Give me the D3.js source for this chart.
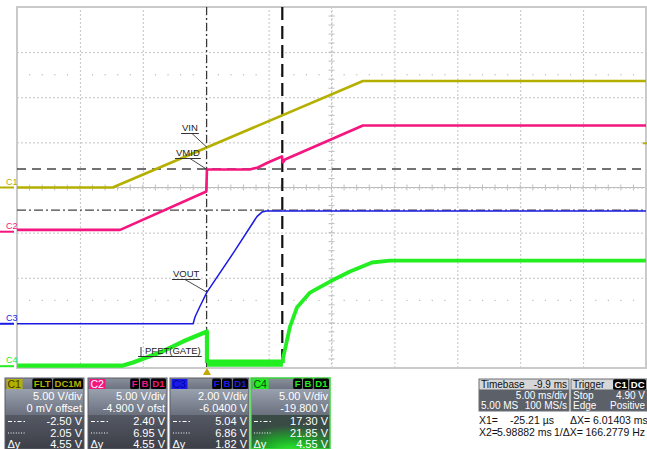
<!DOCTYPE html>
<html><head><meta charset="utf-8">
<script src="https://cdn.jsdelivr.net/npm/d3@7"></script>
<style>
html,body{margin:0;padding:0;background:#fff;}
svg{display:block;font-family:"Liberation Sans",Arial,sans-serif;}
</style></head><body>
<svg id="scope" width="647" height="449"></svg>
<script>
// ---- acquisition settings ----
const timePerDiv = 5;            // ms/div
const screenCentre = 9.9;        // ms after trigger (timebase -9.9 ms)
const hDivs = 10, vDivs = 8;

const channelNames = ["C1", "C2", "C3", "C4"];
const channelColors = ["#b5b000", "#f5157f", "#1a1ae6", "#22ee22"];
const channelVoltsPerDiv = [5, 5, 2, 5];
const channelOffsets = [0, -4.9, -6.04, -19.8];

// ---- waveforms (time in ms, level in V) ----
// C1 : VIN
const vinTime  = [-15.1, -7.5, 12.4, 34.9];
const vinVolts = [0.0, 0.0, 11.8, 11.8];
// C2 : VMID
const vmidTime  = [-15.1, -6.9, -0.05, 0.0, 3.4, 4.05, 4.85, 5.96, 6.04, 6.2, 12.4, 34.9];
const vmidVolts = [0.2, 0.2, 4.46, 6.9, 6.9, 7.12, 7.67, 8.34, 7.67, 8.0, 11.77, 11.77];
// C3 : VOUT
const voutTime  = [-15.1, -1.1, -0.95, -0.6, 0.0, 2.23, 3.97, 4.37, 4.69, 34.9];
const voutVolts = [0.0, 0.0, 0.3, 0.72, 1.4, 3.25, 4.75, 4.95, 5.0, 5.0];
// C4 : PFET gate
const gateTime  = [-15.1, -6.68, -5.88, -3.74, -1.91, 0.0, 0.0];
const gateVolts = [0.07, 0.07, 0.40, 1.51, 2.73, 3.84, 0.35];
const gateNoiseTime = [0.0, 6.04];
const gateNoiseLow  = [-0.05, -0.05];
const gateNoiseHigh = [0.75, 0.75];
const gateRiseTime  = [6.04, 6.04, 6.6, 7.15, 8.19, 9.78, 11.37, 13.12, 14.55, 34.9];
const gateRiseVolts = [0.35, 0.84, 4.39, 6.5, 8.16, 9.38, 10.49, 11.49, 11.7, 11.7];

// ---- cursors ----
const cursorX1 = -0.02521, cursorX2 = 5.98882;   // ms
const cursorY1 = -2.50, cursorY2 = 2.05;          // V on C1
const triggerLevel = 4.90;                         // V on C1

// ---- read-outs ----
const panelVdiv   = ["5.00 V/div", "5.00 V/div", "2.00 V/div", "5.00 V/div"];
const panelOffset = ["0 mV offset", "-4.900 V ofst", "-6.0400 V", "-19.800 V"];
const panelCurY1  = ["-2.50 V", "2.40 V", "5.04 V", "17.30 V"];
const panelCurY2  = ["2.05 V", "6.95 V", "6.86 V", "21.85 V"];
const panelDeltaY = ["4.55 V", "4.55 V", "1.82 V", "4.55 V"];
const panelBadges = [["FLT", "DC1M"], ["F", "B", "D1"], ["F", "B", "D1"], ["F", "B", "D1"]];

// ---- geometry ----
const plotL = 17, plotR = 646, plotT = 7, plotB = 368;
const svg = d3.select("#scope");

const x = d3.scaleLinear()
  .domain([screenCentre - hDivs / 2 * timePerDiv, screenCentre + hDivs / 2 * timePerDiv])
  .range([plotL, plotR]);
const yCh = channelVoltsPerDiv.map((vd, i) => d3.scaleLinear()
  .domain([-channelOffsets[i] - vDivs / 2 * vd, -channelOffsets[i] + vDivs / 2 * vd])
  .range([plotB, plotT]));
const yDiv = d3.scaleLinear().domain([-vDivs / 2, vDivs / 2]).range([plotB, plotT]);

// ---- graticule ----
const grid = svg.append("g");
const t0 = x.domain()[0];
const majorT = d3.range(hDivs + 1).map(i => t0 + i * timePerDiv);
const minorT = d3.range(hDivs * 5 + 1).map(i => t0 + i * timePerDiv / 5);
const majorV = d3.range(-vDivs / 2, vDivs / 2 + 1);
const minorV = d3.range(vDivs * 5 + 1).map(i => -vDivs / 2 + i / 5);

const gx = grid.append("g").attr("transform", `translate(0,${plotB})`)
  .call(d3.axisBottom(x).tickValues(majorT).tickSize(-(plotB - plotT)).tickFormat(""));
const gy = grid.append("g").attr("transform", `translate(${plotL},0)`)
  .call(d3.axisLeft(yDiv).tickValues(majorV).tickSize(-(plotR - plotL)).tickFormat(""));
[gx, gy].forEach(g => {
  g.select(".domain").remove();
  g.selectAll("line").attr("stroke", "#c4c4c4").attr("stroke-width", 1)
    .attr("stroke-dasharray", "2,2");
});

// rows of dots at +/-2.5 div
[-2.5, 2.5].forEach(v => {
  grid.append("g").selectAll("rect").data(minorT.filter((d, i) => i % 5 !== 0)).join("rect")
    .attr("x", d => x(d) - 0.5).attr("y", yDiv(v) - 0.5).attr("width", 1.2).attr("height", 1.2)
    .attr("fill", "#b8b8b8");
});

// centre cross with minor ticks
const cx = x(screenCentre), cy = yDiv(0);
grid.append("line").attr("x1", plotL).attr("x2", plotR).attr("y1", cy).attr("y2", cy)
  .attr("stroke", "#bdbdbd").attr("stroke-width", 1.2);
grid.append("line").attr("x1", cx).attr("x2", cx).attr("y1", plotT).attr("y2", plotB)
  .attr("stroke", "#c8c8c8").attr("stroke-width", 1).attr("stroke-dasharray", "2,2");
grid.append("g").selectAll("line").data(minorT).join("line")
  .attr("x1", d => x(d)).attr("x2", d => x(d)).attr("y1", cy - 3).attr("y2", cy + 3)
  .attr("stroke", "#c0c0c0");
grid.append("g").selectAll("line").data(minorV).join("line")
  .attr("y1", d => yDiv(d)).attr("y2", d => yDiv(d)).attr("x1", cx - 3).attr("x2", cx + 3)
  .attr("stroke", "#c0c0c0");

// frame
grid.append("rect").attr("x", plotL).attr("y", plotT).attr("width", plotR - plotL)
  .attr("height", plotB - plotT).attr("fill", "none").attr("stroke", "#cacaca").attr("stroke-width", 2);

// ---- horizontal cursors (C1 levels) ----
const cur = svg.append("g");
cur.append("line").attr("x1", plotL).attr("x2", plotR)
  .attr("y1", yCh[0](cursorY2)).attr("y2", yCh[0](cursorY2))
  .attr("stroke", "#444").attr("stroke-width", 1.3).attr("stroke-dasharray", "9,6");
cur.append("line").attr("x1", plotL).attr("x2", plotR)
  .attr("y1", yCh[0](cursorY1)).attr("y2", yCh[0](cursorY1))
  .attr("stroke", "#444").attr("stroke-width", 1.3).attr("stroke-dasharray", "9,3,2,3");

// ---- traces ----
const traces = svg.append("g");
function trace(times, volts, ch, width) {
  const pts = times.map((t, i) => [t, volts[i]]);
  traces.append("path").datum(pts)
    .attr("d", d3.line().x(d => x(d[0])).y(d => yCh[ch](d[1])))
    .attr("fill", "none").attr("stroke", channelColors[ch]).attr("stroke-width", width)
    .attr("stroke-linejoin", "round");
}
trace(vinTime, vinVolts, 0, 2.6);
trace(vmidTime, vmidVolts, 1, 2.6);
trace(voutTime, voutVolts, 2, 1.5);
trace(gateTime, gateVolts, 3, 4.2);
traces.append("path")
  .datum(gateNoiseTime.map((t, i) => [t, gateNoiseLow[i], gateNoiseHigh[i]]))
  .attr("d", d3.area().x(d => x(d[0])).y0(d => yCh[3](d[1])).y1(d => yCh[3](d[2])))
  .attr("fill", channelColors[3]);
trace(gateRiseTime, gateRiseVolts, 3, 3.8);

// ---- vertical cursors ----
cur.append("line").attr("x1", x(cursorX1)).attr("x2", x(cursorX1)).attr("y1", plotT).attr("y2", plotB)
  .attr("stroke", "#333").attr("stroke-width", 1.2).attr("stroke-dasharray", "8,3,2,3");
cur.append("line").attr("x1", x(cursorX2)).attr("x2", x(cursorX2)).attr("y1", plotT).attr("y2", plotB)
  .attr("stroke", "#111").attr("stroke-width", 2.2).attr("stroke-dasharray", "13,6");

// ---- trace annotations ----
const ann = svg.append("g").attr("font-size", 9.5).attr("fill", "#222");
function note(text, tx, ty, lx, targetT, targetV, ch) {
  const t = ann.append("text").attr("x", tx).attr("y", ty).text(text);
  const w = t.node().getComputedTextLength();
  ann.append("line").attr("x1", tx - 1).attr("x2", tx + w + 1).attr("y1", ty + 2.5).attr("y2", ty + 2.5)
    .attr("stroke", "#333").attr("stroke-width", 1);
  ann.append("line").attr("x1", lx).attr("y1", ty + 2.5)
    .attr("x2", x(targetT)).attr("y2", yCh[ch](targetV))
    .attr("stroke", "#333").attr("stroke-width", 0.9);
}
const vinAtTrig = d3.scaleLinear().domain([vinTime[1], vinTime[2]]).range([vinVolts[1], vinVolts[2]])(0);
note("VIN", 182, 131, 192, 0, vinAtTrig, 0);
note("VMID", 176, 156, 190, 0, vmidVolts[3], 1);
note("VOUT", 173, 277, 185, 0, voutVolts[4], 2);
// gate label with a short drop line
const pg = ann.append("text").attr("x", 145).attr("y", 354).text("PFET(GATE)");
const pgw = pg.node().getComputedTextLength();
ann.append("line").attr("x1", 138).attr("x2", 145 + pgw + 1).attr("y1", 356.5).attr("y2", 356.5)
  .attr("stroke", "#333");
ann.append("line").attr("x1", 141).attr("x2", 141).attr("y1", 347).attr("y2", 356.5)
  .attr("stroke", "#333");

// ---- channel ground markers ----
const marks = svg.append("g").attr("font-size", 9);
channelNames.forEach((n, i) => {
  const y0 = Math.min(yCh[i](0), plotB - 1);
  marks.append("line").attr("x1", 0).attr("x2", 14).attr("y1", y0).attr("y2", y0)
    .attr("stroke", channelColors[i]).attr("stroke-width", 2);
  marks.append("text").attr("x", 6).attr("y", y0 - 3).attr("fill", channelColors[i]).text(n);
});
// trigger level and trigger position
marks.append("line").attr("x1", plotR - 3).attr("x2", plotR + 1)
  .attr("y1", yCh[0](triggerLevel)).attr("y2", yCh[0](triggerLevel))
  .attr("stroke", channelColors[0]).attr("stroke-width", 2);
marks.append("path")
  .attr("d", `M${x(0) - 4},375 L${x(0) + 4},375 L${x(0)},368 Z`).attr("fill", "#c2a700");

// ---- channel read-out panels ----
const defs = svg.append("defs");
const gBody = defs.append("linearGradient").attr("id", "bodyGrad").attr("x1", 0).attr("x2", 0).attr("y1", 0).attr("y2", 1);
gBody.append("stop").attr("offset", "0%").attr("stop-color", "#9aa1ae");
gBody.append("stop").attr("offset", "100%").attr("stop-color", "#6a707e");
const gDark = defs.append("linearGradient").attr("id", "darkGrad").attr("x1", 0).attr("x2", 0).attr("y1", 0).attr("y2", 1);
gDark.append("stop").attr("offset", "0%").attr("stop-color", "#555964");
gDark.append("stop").attr("offset", "100%").attr("stop-color", "#3c3f47");
const gGlow = defs.append("radialGradient").attr("id", "glow").attr("cx", 0.5).attr("cy", 1.05).attr("r", 0.75);
gGlow.append("stop").attr("offset", "0%").attr("stop-color", "#2cf02c");
gGlow.append("stop").attr("offset", "45%").attr("stop-color", "#1fa82a");
gGlow.append("stop").attr("offset", "100%").attr("stop-color", "#3a4a45");
const gHead = defs.append("linearGradient").attr("id", "headGrad").attr("x1", 0).attr("x2", 0).attr("y1", 0).attr("y2", 1);
gHead.append("stop").attr("offset", "0%").attr("stop-color", "#8a909c");
gHead.append("stop").attr("offset", "100%").attr("stop-color", "#6d7380");

const panelX = [5, 88, 170, 251], panelW = 79, panelTop = 378;
const labelText = ["#3a3a00", "#ffffff", "#0000a8", "#114411"];

function badges(g, right, y, labels, fg) {
  let edge = right;
  for (let i = labels.length - 1; i >= 0; i--) {
    const t = g.append("text").attr("y", y + 8.6).attr("font-size", 9.5).attr("font-weight", "bold")
      .attr("fill", fg).text(labels[i]);
    const w = t.node().getComputedTextLength();
    const bx = edge - w - 3;
    t.attr("x", bx + 1.5);
    g.insert("rect", () => t.node()).attr("x", bx).attr("y", y).attr("width", w + 3).attr("height", 10.5)
      .attr("rx", 1.5).attr("fill", "#050505");
    edge = bx - 1;
  }
}

channelNames.forEach((n, i) => {
  const g = svg.append("g").attr("transform", `translate(${panelX[i]},0)`);
  const isGate = i === 3;
  g.append("rect").attr("x", 0).attr("y", panelTop).attr("width", panelW).attr("height", 11)
    .attr("fill", "url(#headGrad)");
  g.append("rect").attr("x", 0).attr("y", panelTop + 11).attr("width", panelW).attr("height", 26)
    .attr("fill", "url(#bodyGrad)");
  g.append("rect").attr("x", 0).attr("y", panelTop + 37).attr("width", panelW).attr("height", 449 - panelTop - 37)
    .attr("fill", isGate ? "url(#glow)" : "url(#darkGrad)");
  g.append("rect").attr("x", 0).attr("y", panelTop).attr("width", panelW).attr("height", 449 - panelTop)
    .attr("fill", "none").attr("stroke", isGate ? "#3ad43a" : "#5a5e68").attr("stroke-width", isGate ? 1.5 : 1);
  // channel tag
  g.append("rect").attr("x", 1.5).attr("y", panelTop + 1).attr("width", 16).attr("height", 10)
    .attr("fill", channelColors[i]);
  g.append("text").attr("x", 2.5).attr("y", panelTop + 9.5).attr("font-size", 10.5)
    .attr("fill", labelText[i]).text(n);
  badges(g, panelW - 1, panelTop + 0.5, panelBadges[i], channelColors[i]);

  const rows = [[panelVdiv[i], 400], [panelOffset[i], 411.5], [panelCurY1[i], 425], [panelCurY2[i], 436.5], [panelDeltaY[i], 447.5]];
  rows.forEach(([txt, yy]) => {
    g.append("text").attr("x", panelW - 2).attr("y", yy).attr("text-anchor", "end")
      .attr("font-size", 11).attr("fill", "#fff").text(txt);
  });
  g.append("line").attr("x1", 3).attr("x2", 20).attr("y1", 421.5).attr("y2", 421.5)
    .attr("stroke", "#fff").attr("stroke-dasharray", "4,2,1.5,2");
  g.append("line").attr("x1", 3).attr("x2", 21).attr("y1", 433).attr("y2", 433)
    .attr("stroke", "#fff").attr("stroke-dasharray", "1,1.6");
  g.append("text").attr("x", 2.5).attr("y", 447.5).attr("font-size", 11).attr("fill", "#fff").text("\u0394y");
});

// ---- timebase / trigger boxes ----
const tb = svg.append("g").attr("font-size", 10);
function infoBox(x0, w, title, titleRight, rowsL, rowsR) {
  tb.append("rect").attr("x", x0).attr("y", 379).attr("width", w).attr("height", 32).attr("fill", "#5c6069");
  tb.append("rect").attr("x", x0).attr("y", 379).attr("width", w).attr("height", 10.5).attr("fill", "#d6d6d6");
  tb.append("rect").attr("x", x0).attr("y", 379).attr("width", w).attr("height", 32).attr("fill", "none")
    .attr("stroke", "#6a6e76");
  tb.append("text").attr("x", x0 + 2).attr("y", 388.2).attr("fill", "#111").text(title);
  if (titleRight) tb.append("text").attr("x", x0 + w - 2).attr("y", 388.2).attr("text-anchor", "end")
    .attr("fill", "#111").text(titleRight);
  [399.3, 409.3].forEach((yy, k) => {
    if (rowsL[k]) tb.append("text").attr("x", x0 + 2).attr("y", yy).attr("fill", "#fff").text(rowsL[k]);
    tb.append("text").attr("x", x0 + w - 2).attr("y", yy).attr("text-anchor", "end").attr("fill", "#fff").text(rowsR[k]);
  });
}
infoBox(479, 90, "Timebase", "-9.9 ms", ["", "5.00 MS"], ["5.00 ms/div", "100 MS/s"]);
infoBox(571, 76, "Trigger", null, ["Stop", "Edge"], ["4.90 V", "Positive"]);
const trigBadge = tb.append("g");
badges(trigBadge, 646, 379.3, ["C1", "DC"], "#ffffff");

// cursor read-out
const ro = svg.append("g").attr("font-size", 10.5).attr("fill", "#111");
ro.append("text").attr("x", 479).attr("y", 424).text("X1=");
ro.append("text").attr("x", 554).attr("y", 424).attr("text-anchor", "end").text("-25.21 \u00b5s");
ro.append("text").attr("x", 570).attr("y", 424).text("\u0394X=");
ro.append("text").attr("x", 593).attr("y", 424).text("6.01403 ms");
ro.append("text").attr("x", 479).attr("y", 436).text("X2=");
ro.append("text").attr("x", 497).attr("y", 436).text("5.98882 ms");
ro.append("text").attr("x", 554).attr("y", 436).text("1/\u0394X=");
ro.append("text").attr("x", 645).attr("y", 436).attr("text-anchor", "end").text("166.2779 Hz");
</script>
</body></html>
